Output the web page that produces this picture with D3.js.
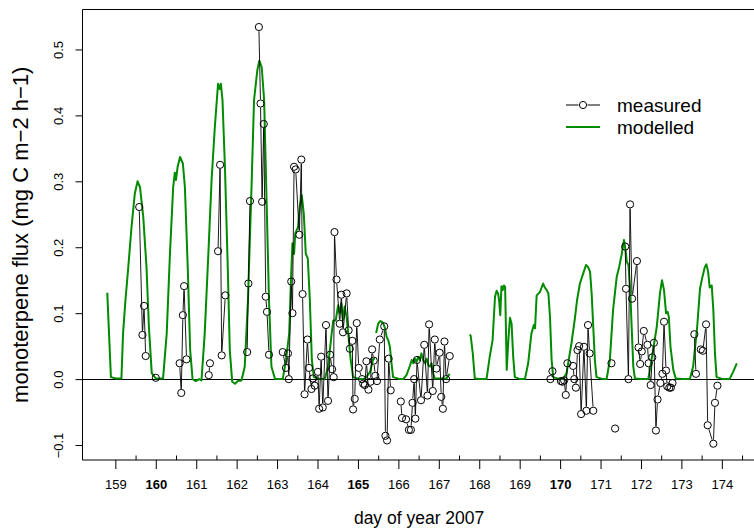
<!DOCTYPE html>
<html><head><meta charset="utf-8">
<script src="https://cdn.jsdelivr.net/npm/d3@7"></script>
<style>body{margin:0;background:#fff}svg{display:block}text{font-family:"Liberation Sans",Arial,sans-serif}</style>
</head><body>
<svg id="c" width="754" height="531"></svg>
<script>
// ---- data ----
const xTicks = [159,160,161,162,163,164,165,166,167,168,169,170,171,172,173,174];
const boldTicks = [160,165,170];
const yTicks = [-0.1,0.0,0.1,0.2,0.3,0.4,0.5];
const yTickLabels = ["\u22120.1","0.0","0.1","0.2","0.3","0.4","0.5"];
const legendLabels = ["measured","modelled"];

// measured flux (day, value); null = gap
const measured = [
[159.59,0.261],[159.67,0.067],[159.71,0.111],[159.75,0.035],null,
[160.00,0.002],null,
[160.59,0.024],[160.63,-0.021],[160.67,0.097],[160.70,0.141],[160.76,0.030],null,
[161.31,0.006],[161.34,0.024],null,
[161.54,0.194],[161.59,0.325],[161.63,0.036],[161.72,0.127],null,
[162.26,0.041],[162.29,0.145],[162.33,0.270],null,
[162.55,0.534],[162.59,0.418],[162.63,0.269],[162.67,0.387],[162.72,0.125],[162.75,0.102],[162.80,0.037],null,
[163.14,0.041],[163.22,0.017],[163.27,0.039],[163.29,0.000],[163.35,0.148],[163.38,0.100],[163.42,0.322],[163.46,0.318],
[163.55,0.219],[163.60,0.333],[163.63,0.129],[163.68,-0.023],[163.75,0.060],[163.79,0.017],[163.85,-0.015],[163.88,0.001],
[163.93,-0.010],[164.01,0.011],[164.04,-0.045],[164.09,0.034],[164.13,-0.043],[164.21,0.082],[164.26,-0.033],[164.31,0.037],
[164.36,0.015],[164.40,0.003],[164.42,0.223],[164.47,0.151],[164.55,0.084],[164.59,0.128],[164.63,0.071],[164.72,0.130],
[164.77,0.074],[164.80,0.046],[164.86,0.058],[164.88,-0.046],[164.92,-0.030],[164.97,0.085],[165.02,0.017],[165.10,0.000],
[165.13,-0.007],[165.17,-0.009],[165.21,0.027],[165.26,-0.016],[165.31,-0.004],[165.35,0.045],[165.39,0.028],[165.43,0.005],
[165.47,-0.003],[165.54,0.060],[165.65,0.080],[165.68,-0.086],[165.72,-0.093],[165.76,0.031],[165.81,-0.017],null,
[166.06,-0.034],[166.09,-0.059],[166.19,-0.061],[166.26,-0.077],[166.31,-0.077],[166.35,-0.036],[166.39,0.000],[166.42,-0.060],
[166.46,0.029],[166.56,-0.032],[166.64,0.052],[166.72,-0.025],[166.76,0.083],[166.85,-0.018],[166.90,0.060],[166.94,0.016],
[167.02,0.040],[167.06,-0.027],[167.10,-0.045],[167.14,0.057],[167.18,0.000],[167.27,0.035],null,
[169.76,0.000],[169.81,0.012],null,
[170.02,-0.003],[170.06,-0.004],[170.10,-0.002],[170.14,-0.024],[170.18,0.024],[170.32,0.020],[170.35,0.000],[170.39,-0.013],
[170.43,0.044],[170.47,0.050],[170.52,-0.053],[170.59,0.049],[170.65,-0.048],[170.69,0.082],[170.73,0.039],[170.82,-0.048],null,
[171.27,0.024],null,[171.36,-0.075],null,
[171.61,0.201],[171.63,0.137],[171.69,0.000],[171.73,0.265],[171.78,0.122],[171.90,0.179],[171.94,0.048],[171.98,0.023],
[172.02,0.042],[172.07,0.073],[172.16,0.052],[172.19,0.024],[172.24,-0.009],[172.28,0.033],[172.32,0.055],[172.37,-0.078],
[172.41,-0.031],[172.48,-0.006],[172.53,0.008],[172.57,0.087],[172.62,0.013],[172.65,-0.011],[172.70,-0.013],[172.74,-0.013],
[172.78,-0.006],null,
[173.32,0.068],[173.36,0.008],null,
[173.48,0.045],[173.53,0.043],[173.61,0.083],[173.65,-0.070],[173.79,-0.098],[173.83,-0.036],[173.89,-0.010]
];

// modelled flux (day, value); null = gap
const modelled = [
[158.80,0.131],[158.89,0.003],[159.01,0.001],[159.15,0.001],[159.19,0.069],[159.25,0.120],[159.32,0.170],[159.40,0.231],
[159.48,0.281],[159.55,0.300],[159.61,0.291],[159.69,0.246],[159.77,0.170],[159.83,0.079],[159.90,0.009],[160.00,0.001],
[160.18,0.001],[160.27,0.069],[160.35,0.190],[160.43,0.291],[160.47,0.313],[160.50,0.302],[160.54,0.322],[160.60,0.337],
[160.67,0.327],[160.72,0.291],[160.79,0.170],[160.85,0.044],[160.91,0.000],[160.99,-0.003],[161.07,0.000],[161.13,-0.002],
[161.21,0.069],[161.30,0.190],[161.38,0.302],[161.46,0.382],[161.54,0.448],[161.58,0.440],[161.61,0.448],[161.65,0.423],
[161.71,0.322],[161.78,0.170],[161.83,0.044],[161.89,-0.004],[161.96,-0.007],[162.03,-0.003],[162.12,-0.002],[162.20,0.019],
[162.28,0.120],[162.37,0.296],[162.43,0.423],[162.51,0.468],[162.56,0.483],[162.62,0.473],[162.68,0.423],[162.74,0.271],
[162.80,0.120],[162.86,0.019],[162.95,0.000],[163.07,0.000],[163.14,0.000],[163.22,0.029],[163.30,0.069],[163.34,0.145],
[163.38,0.206],[163.42,0.190],[163.45,0.221],[163.52,0.231],[163.56,0.261],[163.61,0.279],[163.66,0.251],[163.71,0.190],
[163.76,0.183],[163.81,0.120],[163.86,0.029],[163.91,0.003],[164.06,0.000],[164.18,0.000],[164.26,0.019],[164.35,0.069],
[164.39,0.089],[164.45,0.089],[164.51,0.112],[164.55,0.100],[164.59,0.115],[164.63,0.089],[164.67,0.110],[164.72,0.094],
[164.76,0.069],[164.82,0.029],[164.88,0.003],[165.05,0.000],[165.17,0.000],[165.30,0.011],[165.34,0.021],[165.38,0.031],
[165.42,0.031],null,
[165.45,0.070],[165.50,0.084],[165.55,0.088],[165.59,0.087],[165.63,0.084],[165.67,0.077],[165.71,0.064],[165.75,0.059],
[165.79,0.049],[165.83,0.024],[165.87,0.003],[166.04,0.000],[166.12,0.000],[166.20,0.006],[166.29,0.021],[166.33,0.029],
[166.37,0.024],[166.41,0.031],[166.45,0.026],[166.49,0.034],[166.53,0.029],[166.57,0.039],[166.61,0.029],[166.66,0.024],
[166.70,0.031],[166.74,0.021],[166.78,0.019],[166.82,0.024],[166.86,0.009],[166.90,0.001],[167.03,0.001],[167.19,0.001],
[167.23,0.005],[167.27,0.008],null,
[167.77,0.068],[167.79,0.065],[167.84,0.039],[167.89,0.001],[168.02,0.000],[168.18,0.000],[168.26,0.034],[168.33,0.059],
[168.39,0.125],[168.43,0.134],[168.47,0.129],[168.49,0.120],[168.52,0.097],[168.55,0.141],[168.58,0.135],[168.61,0.142],
[168.64,0.140],[168.68,0.014],[168.72,0.059],[168.76,0.093],[168.80,0.084],[168.84,0.034],[168.88,0.003],[169.01,0.000],
[169.13,0.000],[169.21,0.024],[169.29,0.069],[169.35,0.082],[169.38,0.077],[169.42,0.127],[169.50,0.132],[169.58,0.145],
[169.62,0.139],[169.67,0.135],[169.71,0.130],[169.75,0.094],[169.79,0.029],[169.83,0.003],[169.99,0.000],[170.07,0.000],
[170.16,0.009],[170.28,0.054],[170.37,0.094],[170.42,0.120],[170.49,0.145],[170.57,0.160],[170.64,0.173],[170.69,0.170],
[170.74,0.163],[170.78,0.130],[170.82,0.079],[170.86,0.029],[170.90,0.003],[171.06,0.000],[171.15,0.000],[171.23,0.029],
[171.31,0.105],[171.40,0.155],[171.46,0.170],[171.52,0.188],[171.58,0.211],[171.62,0.195],[171.65,0.178],[171.69,0.173],
[171.73,0.140],[171.77,0.079],[171.81,0.019],[171.85,0.001],[172.02,0.000],[172.18,0.000],[172.26,0.029],[172.39,0.079],
[172.47,0.130],[172.52,0.150],[172.57,0.135],[172.62,0.100],[172.66,0.102],[172.69,0.094],[172.73,0.049],[172.80,0.014],
[172.86,0.001],[173.04,0.000],[173.21,0.000],[173.29,0.019],[173.39,0.079],[173.46,0.137],[173.52,0.155],[173.58,0.170],
[173.62,0.174],[173.66,0.163],[173.70,0.139],[173.75,0.142],[173.79,0.105],[173.83,0.039],[173.87,0.003],[174.03,0.000],
[174.19,0.000],[174.28,0.011],[174.37,0.024]
];

// ---- drawing ----
const svg = d3.select("#c");
const L = 82, R = 756.2, T = 9.5, B = 460;
const x = d3.scaleLinear().domain([158.175, 174.85]).range([L, R]);
const y = d3.scaleLinear().domain([-0.1227, 0.5606]).range([B, T]);
const green = "#008b00";

// zero line
svg.append("line").attr("x1", L).attr("x2", 760).attr("y1", Math.round(y(0))+0.5).attr("y2", Math.round(y(0))+0.5)
  .attr("stroke", "#000").attr("stroke-width", 1);

// modelled line
const line = d3.line().defined(d => d !== null).x(d => x(d[0])).y(d => y(d[1]));
svg.append("path").attr("d", line(modelled)).attr("fill", "none").attr("stroke", green)
  .attr("stroke-width", 2).attr("stroke-linejoin", "round");

// measured: type "b" (lines with gaps around points)
const r = 3.6, gap = 4.2;
const mg = svg.append("g");
for (let i = 0; i < measured.length - 1; i++) {
  const a = measured[i], b = measured[i+1];
  if (!a || !b) continue;
  const x0 = x(a[0]), y0 = y(a[1]), x1 = x(b[0]), y1 = y(b[1]);
  const dx = x1 - x0, dy = y1 - y0, len = Math.hypot(dx, dy);
  if (len <= 2 * gap) continue;
  const ux = dx / len, uy = dy / len;
  mg.append("line").attr("x1", x0 + ux*gap).attr("y1", y0 + uy*gap)
    .attr("x2", x1 - ux*gap).attr("y2", y1 - uy*gap).attr("stroke", "#000").attr("stroke-width", 0.9);
}
mg.selectAll("circle").data(measured.filter(d => d)).enter().append("circle")
  .attr("cx", d => x(d[0])).attr("cy", d => y(d[1])).attr("r", r)
  .attr("fill", "none").attr("stroke", "#000").attr("stroke-width", 1);

// box (right edge outside the view)
svg.append("path").attr("d", `M760,${T}H${L}V${B}H760`).attr("fill", "none").attr("stroke", "#000").attr("stroke-width", 1)
  .attr("transform", "translate(0.5,0)");

// y axis
const yAxis = d3.axisLeft(y).tickValues(yTicks).tickSize(7).tickFormat(d => yTickLabels[yTicks.indexOf(d)]);
const gy = svg.append("g").attr("transform", `translate(${L+0.5},0)`).call(yAxis);
gy.select(".domain").remove();
gy.selectAll("line").attr("stroke", "#000");
gy.selectAll("text").attr("font-size", 13).attr("fill", "#000")
  .attr("x", 0).attr("y", 0).attr("dy", null).attr("text-anchor", "middle")
  .attr("transform", "translate(-20,0) rotate(-90)");

// x axis: major ticks down, minor (half-day) ticks up
const xAxis = d3.axisBottom(x).tickValues(xTicks).tickSize(9).tickFormat(d3.format("d"));
const gx = svg.append("g").attr("transform", `translate(0,${B})`).call(xAxis);
gx.select(".domain").remove();
gx.selectAll("line").attr("stroke", "#000");
gx.selectAll("text").attr("font-size", 13).attr("fill", "#000").attr("y", 20)
  .attr("font-weight", d => boldTicks.includes(d) ? "bold" : "normal");
const minor = xTicks.map(d => d + 0.5);
const xMinor = d3.axisTop(x).tickValues(minor).tickSize(4.5).tickFormat("");
const gm = svg.append("g").attr("transform", `translate(0,${B})`).call(xMinor);
gm.select(".domain").remove();
gm.selectAll("line").attr("stroke", "#000");

// axis titles
svg.append("text").attr("x", (L + R) / 2).attr("y", 524).attr("text-anchor", "middle")
  .attr("font-size", 17.5).text("day of year 2007");
svg.append("text").attr("transform", `translate(28,${(T + B) / 2}) rotate(-90)`).attr("text-anchor", "middle")
  .attr("font-size", 22).text("monoterpene flux (mg C m\u22122 h\u22121)");

// legend
const lg = svg.append("g");
lg.append("line").attr("x1", 566).attr("x2", 583 - 4.5).attr("y1", 105).attr("y2", 105).attr("stroke", "#000");
lg.append("line").attr("x1", 583 + 4.5).attr("x2", 600).attr("y1", 105).attr("y2", 105).attr("stroke", "#000");
lg.append("circle").attr("cx", 583).attr("cy", 105).attr("r", r).attr("fill", "none").attr("stroke", "#000");
lg.append("line").attr("x1", 566).attr("x2", 600).attr("y1", 127).attr("y2", 127).attr("stroke", green).attr("stroke-width", 2);
lg.selectAll("text.lab").data(legendLabels).enter().append("text").attr("class", "lab")
  .attr("x", 617).attr("y", (d, i) => 105 + i * 22).attr("dy", "0.35em").attr("font-size", 19).text(d => d);
</script>
</body></html>
